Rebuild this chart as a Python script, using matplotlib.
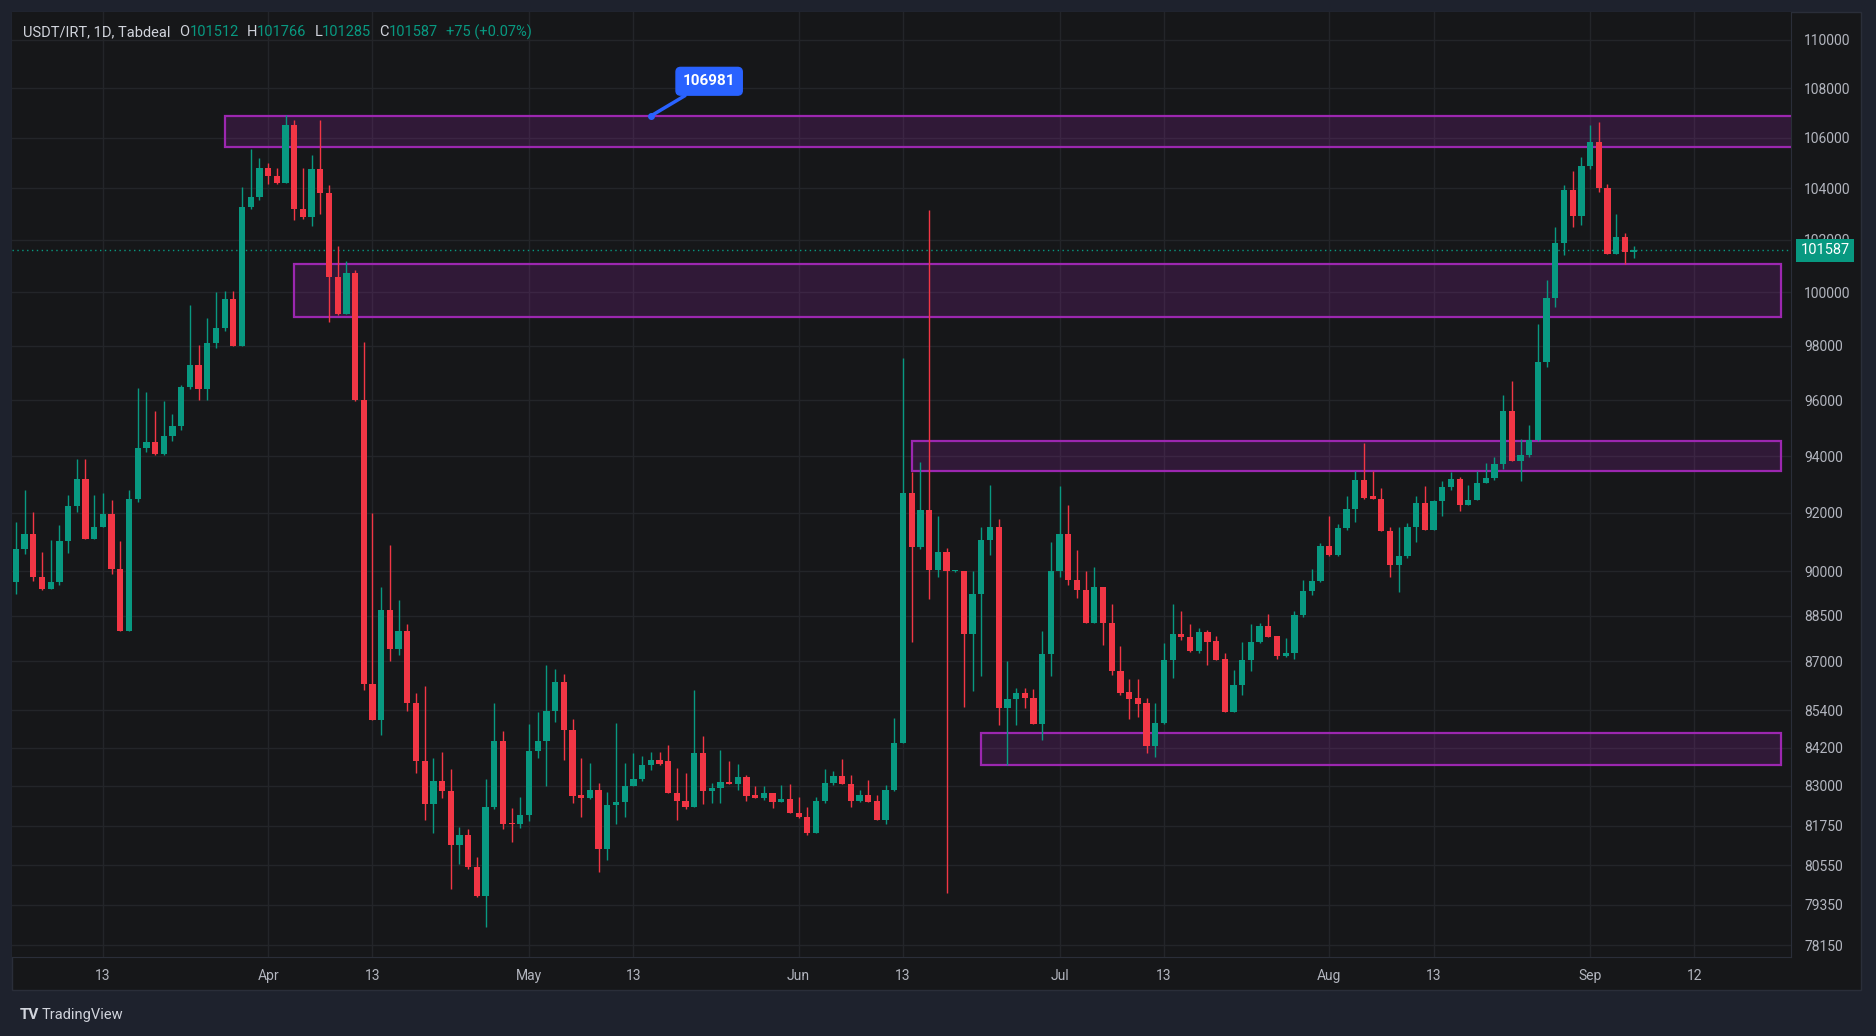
import numpy as np
import pandas as pd
import matplotlib
matplotlib.use('Agg')
import matplotlib.pyplot as plt
from matplotlib.patches import Rectangle
from matplotlib.ticker import NullLocator

plt.rcParams['font.family'] = ['Roboto', 'DejaVu Sans']

# daily USDT/IRT candles, 2025-03-03 .. 2025-09-05
opens = [89620, 90770, 91290, 89800, 89410, 89650, 91020, 92250, 93190, 91090,
         91520, 91980, 90060, 87990, 92480, 94290, 94490, 94070, 94710, 95070,
         96480, 97290, 96410, 98100, 98670, 99720, 98000, 103250, 103660, 104790,
         104460, 104220, 106490, 103180, 102880, 104750, 103790, 100560, 99180, 100710,
         96000, 86260, 85080, 88700, 87400, 87990, 85640, 83770, 82430, 83140,
         82850, 81180, 81480, 80490, 79610, 82330, 84410, 81850, 81800, 82100,
         84110, 84410, 85370, 86330, 84780, 82720, 82630, 82870, 81050, 82390,
         82500, 83000, 83210, 83640, 83820, 83770, 82780, 82520, 82350, 84040,
         82830, 82930, 83120, 83050, 83260, 82710, 82610, 82780, 82490, 82590,
         82160, 82030, 81520, 82520, 83100, 83300, 83060, 82520, 82710, 82520,
         81920, 82860, 84350, 92690, 90830, 92110, 90030, 90650, 90000, 90000,
         87900, 89220, 91050, 91500, 85470, 85760, 85950, 85790, 84960, 87220,
         90010, 91280, 89710, 89370, 88270, 89450, 88250, 86670, 85980, 85790,
         85630, 84270, 85000, 87050, 87900, 87810, 87330, 87950, 87650, 87080,
         85340, 86230, 87020, 87640, 88150, 87840, 87180, 87260, 88510, 89330,
         89680, 90860, 90550, 91470, 92140, 93150, 92580, 92480, 91360, 90220,
         90510, 91510, 92350, 91420, 92410, 92910, 93190, 92290, 92460, 93040,
         93220, 93710, 95620, 93830, 94030, 94570, 97400, 99760, 101880, 103910,
         102910, 104880, 105840, 104000, 101440, 102110, 101512]
highs = [91690, 92800, 92030, 90650, 91060, 91600, 92630, 93900, 93900, 92630,
         92710, 92450, 91020, 92800, 96450, 96290, 95610, 95980, 95520, 96540,
         99520, 98040, 99010, 100000, 100040, 100030, 104030, 105540, 105180, 105010,
         104790, 106900, 106700, 104790, 105300, 106720, 104130, 101750, 101170, 100820,
         98150, 92000, 89460, 90900, 89040, 88220, 85960, 86180, 83890, 84060,
         83530, 81720, 81660, 80790, 83200, 85630, 84740, 82300, 82660, 84950,
         85330, 86880, 86750, 86560, 85130, 83890, 83720, 83100, 82790, 84990,
         83720, 84030, 83950, 84050, 84050, 84300, 83560, 83400, 86040, 84580,
         83100, 84130, 83790, 83680, 83350, 82990, 83000, 82780, 83030, 83040,
         82660, 82330, 82640, 83530, 83450, 83850, 83330, 82860, 83180, 82710,
         83030, 85160, 97530, 93430, 93790, 103130, 91910, 90790, 90030, 90000,
         90000, 91500, 92990, 91800, 87000, 86110, 86110, 86100, 87990, 91010,
         92950, 92290, 90720, 90000, 90150, 89480, 88910, 87480, 86420, 86400,
         85790, 85630, 87590, 88910, 88650, 88240, 88100, 88040, 87820, 87270,
         86700, 87620, 88240, 88260, 88570, 87840, 87760, 88650, 89710, 90080,
         90970, 91900, 91620, 92580, 93480, 94480, 93480, 92870, 91530, 91530,
         91670, 92580, 92950, 92460, 93110, 93440, 93260, 92990, 93480, 93760,
         93970, 96190, 96700, 94600, 95110, 98800, 100450, 102500, 104130, 104660,
         105210, 106500, 106640, 104170, 103000, 102270, 101766]
lows = [89225, 90600, 89680, 89370, 89390, 89540, 90620, 92030, 91090, 91090,
        91500, 89910, 87990, 87990, 92390, 94130, 94020, 94050, 94530, 94920,
        96410, 96000, 96000, 97910, 98540, 98000, 98000, 103170, 103530, 104160,
        104160, 104220, 102760, 102790, 102530, 102990, 98860, 99140, 99160, 95970,
        86040, 85080, 84600, 87000, 87190, 85370, 83390, 81920, 81520, 82630,
        79830, 80580, 80420, 79580, 78700, 82290, 81670, 81270, 81700, 81900,
        83860, 83000, 85020, 83810, 82470, 82020, 82600, 80330, 80720, 81800,
        82030, 83000, 83150, 83500, 83640, 82780, 81920, 82280, 82350, 82420,
        82470, 82470, 83050, 82860, 82520, 82610, 82570, 82320, 82490, 82160,
        81990, 81460, 81520, 82450, 83030, 83050, 82330, 82490, 82490, 81920,
        81810, 82830, 84350, 87620, 90750, 89070, 89820, 79700, 89970, 85510,
        86020, 86510, 90540, 84920, 83640, 84920, 85470, 84960, 84460, 86510,
        89820, 89540, 89080, 88270, 88270, 87530, 86530, 85900, 85130, 85190,
        84020, 83910, 84950, 86450, 87700, 87300, 87260, 86860, 87050, 85340,
        85340, 85900, 86670, 87590, 87810, 87070, 87130, 87070, 88460, 89210,
        89620, 90510, 90510, 91420, 91700, 92480, 92480, 91360, 89820, 89290,
        90460, 91010, 91420, 91400, 91880, 92790, 92060, 92290, 92440, 93040,
        93170, 93550, 93830, 93100, 93970, 94550, 97220, 99430, 101400, 102500,
        102560, 104760, 103830, 101440, 101440, 101050, 101285]
closes = [90770, 91290, 89800, 89410, 89650, 91020, 92250, 93190, 91090, 91520,
          91980, 90060, 87990, 92480, 94290, 94490, 94070, 94710, 95070, 96480,
          97290, 96410, 98100, 98670, 99720, 98000, 103250, 103660, 104790, 104460,
          104220, 106490, 103180, 102880, 104750, 103790, 100560, 99180, 100710, 96000,
          86260, 85080, 88700, 87400, 87990, 85640, 83770, 82430, 83140, 82850,
          81180, 81480, 80490, 79610, 82330, 84410, 81800, 81800, 82100, 84110,
          84410, 85370, 86330, 84780, 82690, 82630, 82870, 81050, 82390, 82500,
          83000, 83210, 83640, 83820, 83700, 82780, 82520, 82350, 84040, 82830,
          82930, 83120, 83050, 83260, 82670, 82610, 82780, 82490, 82590, 82160,
          82030, 81520, 82520, 83100, 83300, 83050, 82520, 82710, 82490, 81920,
          82860, 84350, 92690, 90830, 92110, 90030, 90650, 90000, 90010, 87900,
          89220, 91050, 91500, 85470, 85760, 85950, 85790, 84960, 87220, 90010,
          91280, 89710, 89370, 88270, 89450, 88250, 86670, 85950, 85760, 85600,
          84270, 85000, 87050, 87900, 87790, 87330, 87950, 87620, 87050, 85340,
          86230, 87020, 87640, 88150, 87810, 87180, 87260, 88540, 89330, 89680,
          90860, 90550, 91470, 92140, 93150, 92520, 92480, 91360, 90220, 90510,
          91510, 92350, 91420, 92410, 92910, 93190, 92290, 92460, 93040, 93220,
          93710, 95620, 93830, 94030, 94570, 97400, 99760, 101880, 103910, 102910,
          104880, 105840, 104000, 101440, 102110, 101512, 101587]

first_day = '2025-03-03'

# support / resistance zones drawn on the chart
zone_start = ['2025-03-27', '2025-04-04', '2025-06-14', '2025-06-22']
zone_end = ['2025-09-25', '2025-09-22', '2025-09-22', '2025-09-22']
zone_low = [105640, 99080, 93480, 83640]
zone_high = [106870, 101070, 94520, 84660]

marker_day = '2025-05-15'
marker_price = 106981

price_ticks = [78150, 79350, 80550, 81750, 83000, 84200, 85400, 87000, 88500,
               90000, 92000, 94000, 96000, 98000, 100000, 102000, 104000,
               106000, 108000, 110000]
# time-scale marks as placed on the chart's bar grid
date_ticks = ['2025-03-13', '2025-04-01', '2025-04-13', '2025-05-01', '2025-05-13',
              '2025-06-01', '2025-06-13', '2025-07-01', '2025-07-13', '2025-08-01',
              '2025-08-13', '2025-08-31', '2025-09-12']
date_labels = ['13', 'Apr', '13', 'May', '13', 'Jun', '13', 'Jul', '13', 'Aug',
               '13', 'Sep', '12']

UP = '#089981'
DOWN = '#f23645'
BG = '#161719'
FRAME = '#1e222d'
TXT = '#b2b5be'
GRID = '#232529'

o = np.array(opens, float)
h = np.array(highs, float)
l = np.array(lows, float)
c = np.array(closes, float)
t0 = pd.Timestamp(first_day)
def day(s):
    return (pd.Timestamp(s) - t0).days
x = np.arange(len(o))

W, H = 1876, 1036
fig = plt.figure(figsize=(W / 100, H / 100), dpi=100, facecolor=FRAME)
fig.patches.append(Rectangle((12 / W, 1 - 990 / H), (1861 - 12) / W, (990 - 12) / H,
                             transform=fig.transFigure, fc=BG, ec='#2a2e39', lw=1, zorder=-5))

ax = fig.add_axes([12 / W, 1 - 957 / H, (1791 - 12) / W, (957 - 12) / H])
ax.set_zorder(1)
ax.set_facecolor(BG)
ax.set_yscale('log')
ax.set_ylim(77806, 111148)
ax.set_xlim(-0.45, 204.1)

ax.set_yticks(price_ticks, labels=[str(v) for v in price_ticks])
ax.yaxis.set_minor_locator(NullLocator())
ax.set_xticks([day(d) for d in date_ticks], labels=date_labels)
ax.tick_params(axis='y', which='both', left=False, right=False, labelleft=False,
               labelright=True, pad=6, colors=TXT, labelsize=10)
ax.tick_params(axis='x', length=0, pad=8.5, colors=TXT, labelsize=10)
for s in ['top', 'left']:
    ax.spines[s].set_visible(False)
ax.spines['right'].set_color('#2a2e39')
ax.spines['bottom'].set_color('#2a2e39')
ax.grid(True, color=GRID, lw=1)
ax.set_axisbelow(True)

# zones
for x0, x1, lo, hi in zip(zone_start, zone_end, zone_low, zone_high):
    ax.add_patch(Rectangle((day(x0), lo), day(x1) - day(x0), hi - lo,
                           fc=(0.61, 0.15, 0.69, 0.2), ec='#9c27b0', lw=1.6, zorder=2))

# candles
cols = np.where(c >= o, UP, DOWN)
ax.vlines(x, l, h, colors=cols, lw=1.0, zorder=3)
ax.bar(x, np.maximum(np.abs(c - o), 25), bottom=np.minimum(o, c), width=0.72,
       color=cols, lw=0, zorder=4)

# last price line + tag
last = c[-1]
ax.axhline(last, color=UP, lw=1, ls=(0, (1, 2.5)), zorder=1)
ax.text(1.0055, last, f'{int(last)}', transform=ax.get_yaxis_transform(), ha='left',
        va='center', color='white', fontsize=10.5, clip_on=False, zorder=10,
        bbox=dict(boxstyle='square,pad=0.3', fc=UP, ec='none'))

# callout
mx = day(marker_day)
ax.annotate(f'{marker_price}', xy=(mx, 106870), xytext=(42, 25),
            textcoords='offset points', ha='center', va='center', color='white',
            fontsize=11, fontweight='bold', zorder=11,
            bbox=dict(boxstyle='round,pad=0.45,rounding_size=0.3', fc='#2962ff', ec='#2962ff'),
            arrowprops=dict(arrowstyle='-', color='#2962ff', lw=2.5, shrinkA=0, shrinkB=0))
ax.plot([mx], [106870], 'o', ms=4, color='#2962ff', zorder=11)

# header
fig.canvas.draw()
r = fig.canvas.get_renderer()
change = c[-1] - c[-2]
pieces = [('USDT/IRT, 1D, Tabdeal', '#d1d4dc', 9),
          ('O', '#d1d4dc', 0), (f'{int(o[-1])}', UP, 8),
          ('H', '#d1d4dc', 0), (f'{int(h[-1])}', UP, 8),
          ('L', '#d1d4dc', 0), (f'{int(l[-1])}', UP, 8),
          ('C', '#d1d4dc', 0), (f'{int(c[-1])}', UP, 8),
          (f'{int(change):+d} ({change / c[-2] * 100:+.2f}%)', UP, 0)]
px = 23
for s, col, gap in pieces:
    tx = fig.text(px / W, 1 - 32 / H, s, color=col, fontsize=10.5, va='center', ha='left')
    px += tx.get_window_extent(r).width + gap

# footer logo
fig.text(20 / W, 1 - 1015 / H, 'TV', color='#d1d4dc', fontsize=11, fontweight='bold',
         va='center', ha='left')
fig.text(42 / W, 1 - 1015 / H, 'TradingView', color='#d1d4dc', fontsize=10.5,
         va='center', ha='left')

fig.savefig('out.png', dpi=100, facecolor=FRAME)
